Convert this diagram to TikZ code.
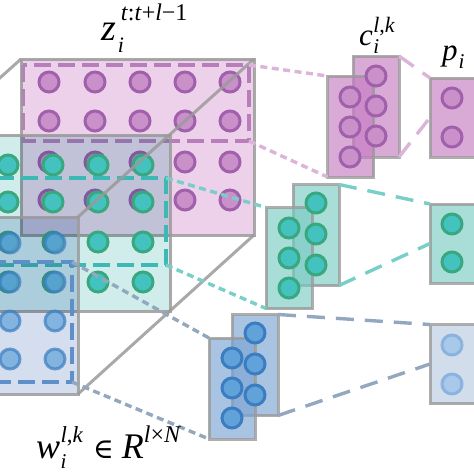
\documentclass[tikz,border=0pt]{standalone}
\usepackage{fontspec}
\setmainfont{Liberation Serif}
\newfontfamily\symfont{DejaVu Serif}
\definecolor{edge}{HTML}{9A9A9A}
\definecolor{pinkbox}{HTML}{EDD0EA}
\definecolor{pinkfill}{HTML}{C990C9}
\definecolor{pinkline}{HTML}{A060AC}
\definecolor{pinkdash}{HTML}{B87EBB}
\definecolor{pinkcon}{HTML}{DDB4D9}
\definecolor{pinkrect}{HTML}{DAAAD7}
\definecolor{pinkrectT}{HTML}{C67CC2}
\definecolor{tealbox}{HTML}{D0EDEC}
\definecolor{tealfill}{HTML}{44C2BF}
\definecolor{tealline}{HTML}{3AA87E}
\definecolor{tealdash}{HTML}{3DB9B5}
\definecolor{tealcon}{HTML}{78CFC8}
\definecolor{tealrect}{HTML}{A8DDD8}
\definecolor{tealrectT}{HTML}{79CBC3}
\definecolor{bluebox}{HTML}{D4DEEE}
\definecolor{bluefill}{HTML}{62A2DA}
\definecolor{blueline}{HTML}{3B7DC0}
\definecolor{bluedash}{HTML}{5E8FC8}
\definecolor{bluecon}{HTML}{93A7BE}
\definecolor{bluerectT}{HTML}{7BA4D3}
\definecolor{bluepbox}{HTML}{D2DDEC}
\definecolor{bluepfill}{HTML}{A9C9EA}
\definecolor{bluepline}{HTML}{8BB3DD}
\tikzset{
  edgeline/.style={draw=edge, line width=3pt, draw opacity=0.85},
  circ/.style 2 args={fill=#1, draw=#2, line width=3pt},
  dashrect/.style={draw=#1, line width=3.2pt, dash pattern=on 17pt off 7pt},
  dotline/.style={draw=#1, line width=3.4pt, dash pattern=on 7pt off 4.5pt},
  longdash/.style={draw=#1, line width=3.4pt, dash pattern=on 18pt off 11pt},
  crect/.style={draw=edge, draw opacity=0.8, line width=3pt, fill=#1, fill opacity=0.65,
    minimum width=46pt, minimum height=101pt, inner sep=0pt, outer sep=0pt},
  prect/.style={draw=edge, draw opacity=0.8, line width=3pt, fill=#1,
    minimum width=48pt, minimum height=79pt, inner sep=0pt, outer sep=0pt},
  lbl/.style={anchor=base west, inner sep=0pt, outer sep=0pt}
}
\begin{document}
\begin{tikzpicture}[x=1pt,y=-1pt]
\useasboundingbox (0,0) rectangle (474,474);
\clip (0,0) rectangle (474,474);
% ---------- back (pink) layer
\fill[pinkbox] (21,59) rectangle (254,235);
\foreach \x in {49,95,140,185,230}
  \foreach \y in {82,121,162,200}
    \draw[circ={pinkfill}{pinkline}] (\x,\y) circle (10);
\draw[dashrect=pinkdash] (23,65) rectangle (249,141);
\draw[edgeline] (21,59) rectangle (254,235);
\coordinate (pdTR) at (249,65);
\coordinate (pdBR) at (249,141);
% ---------- middle (teal) layer
\fill[tealbox, blend mode=multiply] (-63,135) rectangle (170,311);
\foreach \x in {-37,8,53,98,143}
  \foreach \y in {165,202,242,282}
    \draw[circ={tealfill}{tealline}] (\x,\y) circle (10);
\draw[dashrect=tealdash] (-60,178) rectangle (166,265);
\draw[edgeline] (-63,135) rectangle (170,311);
\coordinate (tdTR) at (166,178);
\coordinate (tdBR) at (166,265);
% ---------- front (blue) layer
\fill[bluebox, blend mode=multiply] (-155,217) rectangle (78,394);
\foreach \x in {10,55}
  \foreach \y in {243,282,321,359}
    \draw[circ={bluefill}{blueline}, opacity=0.7] (\x,\y) circle (10);
\draw[dashrect=bluedash] (-150,262) rectangle (72,382);
\draw[edgeline] (-155,217) rectangle (78,394);
\coordinate (bdTR) at (72,262);
\coordinate (bdBR) at (72,382);
% ---------- cuboid edges
\draw[edgeline] (-155,217) -- (21,59);
\draw[edgeline] (78,217) -- (254,59);
\draw[edgeline] (78,394) -- (254,235);
% ---------- c stacks (back rect, front rect, then circles)
\node[crect=pinkrectT] (pcb) at (376,106.5) {};
\node[crect=pinkrectT] (pcf) at (350.5,126.5) {};
\foreach \y in {76,106,136} \draw[circ={pinkfill}{pinkline}] (376,\y) circle (10);
\foreach \y in {97,127,157} \draw[circ={pinkfill}{pinkline}] (350,\y) circle (10);

\node[crect=tealrectT] (tcb) at (316,235) {};
\node[crect=tealrectT] (tcf) at (289,258) {};
\foreach \y in {203,234,265} \draw[circ={tealfill}{tealline}] (316,\y) circle (10);
\foreach \y in {228,258,288} \draw[circ={tealfill}{tealline}] (289,\y) circle (10);

\node[crect=bluerectT] (bcb) at (255,365) {};
\node[crect=bluerectT] (bcf) at (232,388.5) {};
\foreach \y in {333,364,395} \draw[circ={bluefill}{blueline}] (255,\y) circle (10);
\foreach \y in {358,388,418} \draw[circ={bluefill}{blueline}] (232,\y) circle (10);
% ---------- p boxes
\node[prect=pinkrect] (pp) at (454,117.5) {};
\foreach \y in {98,137} \draw[circ={pinkfill}{pinkline}] (452,\y) circle (10);
\node[prect=tealrect] (tp) at (454,243.5) {};
\foreach \y in {224,262} \draw[circ={tealfill}{tealline}] (452,\y) circle (10);
\node[prect=bluepbox] (bp) at (454,364) {};
\foreach \y in {345,384} \draw[circ={bluepfill}{bluepline}] (452,\y) circle (10);
% ---------- connectors
\draw[dotline=pinkcon] (pdTR) -- (pcf.north west);
\draw[dotline=pinkcon] (pdBR) -- (pcf.south west);
\draw[dotline=tealcon] (tdTR) -- (tcf.north west);
\draw[dotline=tealcon] (tdBR) -- (tcf.south west);
\draw[dotline=bluecon] (bdTR) -- (bcf.north west);
\draw[dotline=bluecon] (bdBR) -- (bcf.south west);
\draw[longdash=pinkcon] (pcb.north east) -- (pp.north west);
\draw[longdash=pinkcon] (pcb.south east) -- (pp.west);
\draw[longdash=tealcon] (tcb.north east) -- (tp.north west);
\draw[longdash=tealcon] (tcb.south east) -- (tp.west);
\draw[longdash=bluecon] (bcb.north east) -- (bp.north west);
\draw[longdash=bluecon] (bcb.south east) -- (bp.west);
% ---------- labels
\node[lbl] (zlab) at (101,40) {\fontsize{38}{38}\selectfont\textit{z}\kern2pt\rlap{\raisebox{-12pt}{\fontsize{22}{22}\selectfont\textit{i}}}\kern3pt\raisebox{20pt}{\fontsize{24}{24}\selectfont\textit{t}:\textit{t}+\textit{l}−1}};
\node[lbl] (clab) at (359,45) {\fontsize{31}{31}\selectfont\textit{c}\kern0.5pt\rlap{\raisebox{-8pt}{\fontsize{21}{21}\selectfont\textit{i}}}\raisebox{13pt}{\fontsize{22}{22}\selectfont\textit{l},\textit{k}}};
\node[lbl] (plab) at (442,60) {\fontsize{31}{31}\selectfont\textit{p}\kern1pt\raisebox{-8pt}{\fontsize{21}{21}\selectfont\textit{i}}};
\node[lbl] (wlab) at (36,458) {\fontsize{36}{36}\selectfont\textit{w}\kern0.5pt\rlap{\raisebox{-10pt}{\fontsize{21}{21}\selectfont\textit{i}}}\raisebox{16pt}{\fontsize{23}{23}\selectfont\textit{l},\textit{k}}\kern10pt{\fontsize{28}{28}\selectfont\symfont ∈}\kern8pt\textit{R}\raisebox{16pt}{\fontsize{24}{24}\selectfont\textit{l}×\textit{N}}};
\end{tikzpicture}
\end{document}
